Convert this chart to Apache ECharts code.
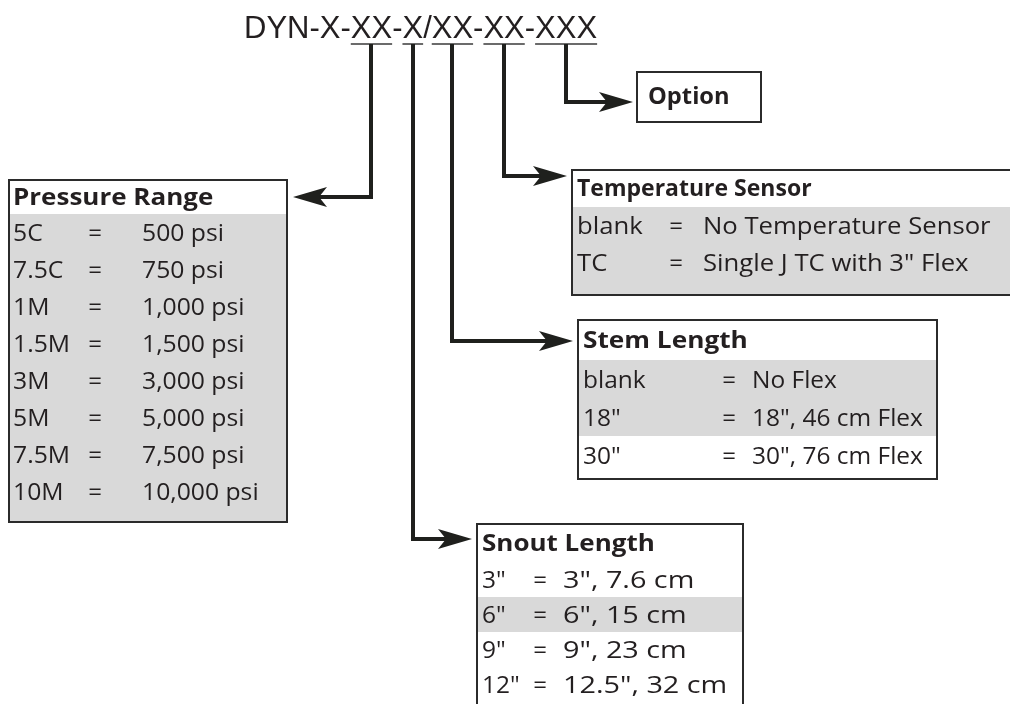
<!DOCTYPE html>
<html>
<head>
<meta charset="utf-8">
<script src="https://cdn.jsdelivr.net/npm/echarts@6/dist/echarts.min.js"></script>
<style>
html,body{margin:0;padding:0;background:#fff;}
#chart{width:1010px;height:704px;}
</style>
</head>
<body>
<div id="chart"></div>
<script>
// ---- data ----
const titleParts = ['DYN-X-', 'XX', '-', 'X', '/', 'XX', '-', 'XX', '-', 'XXX'];
const underlinedParts = [1, 3, 5, 7, 9];
const optionLabel = 'Option';
const pressureTitle = 'Pressure Range';
const pressureCodes = ['5C', '7.5C', '1M', '1.5M', '3M', '5M', '7.5M', '10M'];
const pressureValues = ['500 psi', '750 psi', '1,000 psi', '1,500 psi', '3,000 psi', '5,000 psi', '7,500 psi', '10,000 psi'];
const tempTitle = 'Temperature Sensor';
const tempCodes = ['blank', 'TC'];
const tempValues = ['No Temperature Sensor', 'Single J TC with 3" Flex'];
const stemTitle = 'Stem Length';
const stemCodes = ['blank', '18"', '30"'];
const stemValues = ['No Flex', '18", 46 cm Flex', '30", 76 cm Flex'];
const snoutTitle = 'Snout Length';
const snoutCodes = ['3"', '6"', '9"', '12"'];
const snoutValues = ['3", 7.6 cm', '6", 15 cm', '9", 23 cm', '12.5", 32 cm'];

// ---- styles ----
const INK = '#231f20';
const LINE = '#1f201d';
const BORDER = '#2b2b2b';
const GRAY = '#d9d9d9';
const BODY_FONT = '24px "Open Sans"';
const HEAD_FONT = 'bold 23px "Open Sans"';
const TITLE_FONT = '31px "Liberation Sans", Arial, sans-serif';

const els = [];
const ctx = document.createElement('canvas').getContext('2d');
function textW(t, font) { ctx.font = font; return ctx.measureText(t).width; }

function txt(x, y, t, font, align, sx) {
  els.push({
    type: 'text', x: x, y: y, silent: true, scaleX: sx || 1,
    style: { text: t, font: font, fill: INK, textAlign: align || 'left', textVerticalAlign: 'middle', align: align || 'left', verticalAlign: 'middle' }
  });
}
function rect(x, y, w, h, fill, stroke, lw) {
  els.push({
    type: 'rect', silent: true,
    shape: { x: x, y: y, width: w, height: h },
    style: { fill: fill || 'none', stroke: stroke || 'none', lineWidth: lw || 0 }
  });
}
function arrow(points, dir) {
  const tip = points[points.length - 1];
  const L = 34, H = 10, N = 8;
  const s = dir === 'left' ? -1 : 1;
  const shaftEnd = [tip[0] - s * (L - N), tip[1]];
  const pts = points.slice(0, -1).concat([shaftEnd]);
  els.push({ type: 'polyline', silent: true, shape: { points: pts }, style: { stroke: LINE, lineWidth: 4, fill: 'none', lineJoin: 'miter' } });
  els.push({
    type: 'polygon', silent: true,
    shape: { points: [[tip[0], tip[1]], [tip[0] - s * L, tip[1] - H], [tip[0] - s * (L - N), tip[1]], [tip[0] - s * L, tip[1] + H]] },
    style: { fill: LINE }
  });
}

// ---- title with underlines ----
let tx = 244;
const titleY = 29;
const stemX = [];
titleParts.forEach((p, i) => {
  const w = textW(p, TITLE_FONT);
  txt(tx, titleY, p, TITLE_FONT);
  if (underlinedParts.indexOf(i) >= 0) {
    els.push({ type: 'line', silent: true, shape: { x1: tx, y1: 44, x2: tx + w, y2: 44 }, style: { stroke: '#3a3a3a', lineWidth: 1.5 } });
    stemX.push(Math.round(tx + w / 2));
  }
  tx += w;
});

// ---- table box helper ----
function table(cfg) {
  const { x, y, w, h, headH, rowH, title, codes, values, eqX, valX, codeX, grayRows, grayAll, headSX, bodySX, codeSX } = cfg;
  rect(x, y, w, h, '#fff');
  if (grayAll) rect(x, y + headH, w, h - headH, GRAY);
  (grayRows || []).forEach(r => rect(x, y + headH + r * rowH, w, rowH, GRAY));
  rect(x, y, w, h, 'none', BORDER, 2);
  txt(codeX, y + headH / 2 + 1, title, HEAD_FONT, 'left', headSX);
  codes.forEach((c, i) => {
    const cy = y + headH + rowH * i + rowH / 2 + 2;
    txt(codeX, cy, c, BODY_FONT, 'left', codeSX || bodySX);
    txt(eqX, cy, '=', BODY_FONT, 'center');
    txt(valX, cy, values[i], BODY_FONT, 'left', bodySX);
  });
}

// pressure range
table({ x: 9, y: 180, w: 278, h: 342, headH: 34, rowH: 37, title: pressureTitle, codes: pressureCodes, values: pressureValues, codeX: 13, eqX: 95, valX: 142, grayAll: true, headSX: 1.13, bodySX: 1.03 });
// option box
rect(637, 72, 124, 50, '#fff', BORDER, 2);
txt(648, 97, optionLabel, HEAD_FONT, 'left', 1.03);
// temperature sensor
table({ x: 572, y: 170, w: 460, h: 125, headH: 37, rowH: 37, title: tempTitle, codes: tempCodes, values: tempValues, codeX: 577, eqX: 676, valX: 703, grayAll: true, headSX: 1.0, bodySX: 1.07 });
// stem length
table({ x: 578, y: 320, w: 359, h: 159, headH: 40, rowH: 38, title: stemTitle, codes: stemCodes, values: stemValues, codeX: 583, eqX: 729, valX: 752, grayRows: [0, 1], headSX: 1.14, bodySX: 1.02 });
// snout length
table({ x: 477, y: 524, w: 266, h: 200, headH: 38, rowH: 35, title: snoutTitle, codes: snoutCodes, values: snoutValues, codeX: 482, eqX: 540, valX: 563, grayRows: [1], headSX: 1.13, bodySX: 1.2, codeSX: 1.02 });

// ---- connectors ----
arrow([[stemX[0], 44], [stemX[0], 197], [293, 197]], 'left');
arrow([[stemX[1], 44], [stemX[1], 539], [472, 539]], 'right');
arrow([[stemX[2], 44], [stemX[2], 341], [573, 341]], 'right');
arrow([[stemX[3], 44], [stemX[3], 176], [567, 176]], 'right');
arrow([[stemX[4], 44], [stemX[4], 102], [633, 102]], 'right');

const chart = echarts.init(document.getElementById('chart'), null, { renderer: 'canvas' });
chart.setOption({ backgroundColor: '#fff', animation: false, graphic: { elements: els } });
</script>
</body>
</html>
